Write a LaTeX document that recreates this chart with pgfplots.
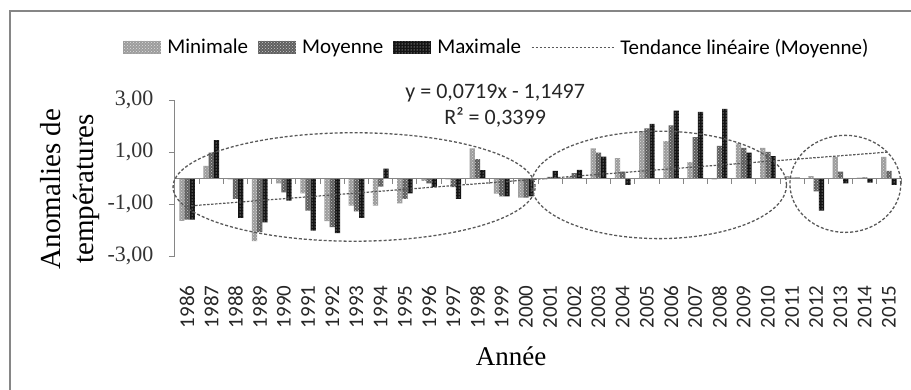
\documentclass[border=0pt]{standalone}
\usepackage{fontspec}
\setmainfont{Liberation Serif}
\newfontfamily\calibri{Carlito}
\usepackage{pgfplots}
\usepackage{pgfplotstable}
\pgfplotsset{compat=1.18}
\usetikzlibrary{patterns}

\pgfplotstableread{
year  mini  moy   maxi
1986 -1.65 -1.60 -1.60
1987  0.47  0.98  1.47
1988 -0.05 -0.80 -1.53
1989 -2.43 -2.08 -1.70
1990 -0.20 -0.55 -0.87
1991 -0.59 -1.25 -2.02
1992 -1.66 -1.89 -2.12
1993 -1.06 -1.28 -1.53
1994 -1.06 -0.33  0.37
1995 -0.97 -0.80 -0.59
1996 -0.10 -0.20 -0.35
1997 -0.05 -0.35 -0.80
1998  1.15  0.73  0.31
1999 -0.60 -0.70 -0.70
2000 -0.75 -0.75 -0.70
2001 -0.05  0.05  0.28
2002  0.05  0.19  0.32
2003  1.15  0.98  0.83
2004  0.77  0.25 -0.26
2005  1.81  1.92  2.09
2006  1.43  2.03  2.60
2007  0.62  1.58  2.55
2008 -0.05  1.24  2.67
2009  1.34  1.17  0.98
2010  1.17  1.01  0.85
2011  0.08  0.02  0.02
2012  0.08 -0.51 -1.25
2013  0.82  0.25 -0.20
2014  0.02  0.03 -0.17
2015  0.82  0.28 -0.26
}\datatable

\pgfplotstableread{
year trend
1986 -1.0778
2015  1.0073
}\trendtable

\definecolor{axgray}{HTML}{868686}
\definecolor{mincol}{HTML}{9C9C9C}
\definecolor{moycol}{HTML}{5E5E5E}
\definecolor{maxcol}{HTML}{141414}
\definecolor{trendcol}{HTML}{595959}

\pgfplotsset{
  barlegend/.style={legend image code/.code={\path[##1] (0pt,-6.5pt) rectangle (38pt,6.5pt);}},
  linelegend/.style={legend image code/.code={\draw[##1] (0pt,0pt) -- (82pt,0pt);}},
}

\begin{document}
\begin{tikzpicture}
\useasboundingbox (-175pt,-133pt) rectangle (736pt,256pt);
\draw[axgray, line width=1.5pt] (-165pt,-140pt) -- (-165pt,245pt) -- (740pt,245pt);
\begin{axis}[
  at={(0pt,0pt)}, anchor=south west,
  scale only axis, width=726pt, height=155.7pt,
  xmin=1985.5, xmax=2015.5, ymin=-3, ymax=3,
  clip=false,
  ybar=0pt, bar width=0.215,
  axis lines*=left,
  x axis line style={draw=none},
  major x tick style={draw=none},
  y axis line style={axgray, line width=1pt},
  major y tick style={axgray, line width=1pt},
  tick align=outside, major tick length=6pt,
  xtick={1986,...,2015},
  xticklabels={1986,1987,1988,1989,1990,1991,1992,1993,1994,1995,1996,1997,1998,1999,2000,2001,2002,2003,2004,2005,2006,2007,2008,2009,2010,2011,2012,2013,2014,2015},
  xticklabel style={yshift=-20pt, rotate=90, anchor=east, font=\calibri\fontsize{21}{21}\selectfont, text=black!85},
  ytick={-3,-1,1,3},
  yticklabels={{-3,00},{-1,00},{1,00},{3,00}},
  yticklabel style={xshift=-12pt, font=\fontsize{22}{22}\selectfont, text=black!80},
  ylabel={Anomalies de\\températures},
  ylabel style={at={(axis description cs:-0.145,0.43)}, anchor=center, align=center, font=\fontsize{29}{33}\selectfont},
  xlabel={Année},
  xlabel style={at={(axis description cs:0.463,-0.641)}, anchor=center, font=\fontsize{27}{30}\selectfont},
  legend columns=4,
  legend style={at={(axis description cs:0.4435,1.34)}, anchor=center, draw=none, fill=none,
    font=\calibri\fontsize{21}{25}\selectfont,
    /tikz/every odd column/.append style={column sep=4pt},
    /tikz/every even column/.append style={column sep=8pt}},
]
\addplot[barlegend, fill=mincol, draw=none, postaction={pattern=crosshatch dots, pattern color=white!75!gray}] table[x=year, y=mini] {\datatable};
\addlegendentry{Minimale}
\addplot[barlegend, fill=moycol, draw=none, postaction={pattern=crosshatch dots, pattern color=gray!40}] table[x=year, y=moy] {\datatable};
\addlegendentry{Moyenne}
\addplot[barlegend, fill=maxcol, draw=none, postaction={pattern=dots, pattern color=white}] table[x=year, y=maxi] {\datatable};
\addlegendentry{Maximale}
\addplot[linelegend, sharp plot, trendcol, line width=1.2pt, dash pattern=on 2.5pt off 1.5pt] table[x=year, y=trend] {\trendtable};
\addlegendentry{Tendance linéaire (Moyenne)}

\draw[axgray, line width=1pt] (axis cs:1985.5,0) -- (axis cs:2015.5,0);
\pgfplotsinvokeforeach{1986,...,2015}{
  \draw[axgray, line width=1pt] (axis cs:#1.5,0) -- (axis cs:#1.5,-0.23);
}
\draw[trendcol, line width=1.3pt, dash pattern=on 3pt off 2pt] (axis cs:1992.9,-0.34) ellipse [x radius=7.48, y radius=2.09];
\draw[trendcol, line width=1.3pt, dash pattern=on 3pt off 2pt] (axis cs:2005.5,-0.26) ellipse [x radius=5.27, y radius=2.07];
\draw[trendcol, line width=1.3pt, dash pattern=on 3pt off 2pt] (axis cs:2013.2,-0.22) ellipse [x radius=2.29, y radius=1.87];

\node[font=\calibri\fontsize{22}{26}\selectfont, text=black!85] at (axis cs:1998.73,3.26) {y = 0,0719x - 1,1497};
\node[font=\calibri\fontsize{22}{26}\selectfont, text=black!85] at (axis cs:1998.73,2.35) {R² = 0,3399};
\end{axis}
\end{tikzpicture}
\end{document}
